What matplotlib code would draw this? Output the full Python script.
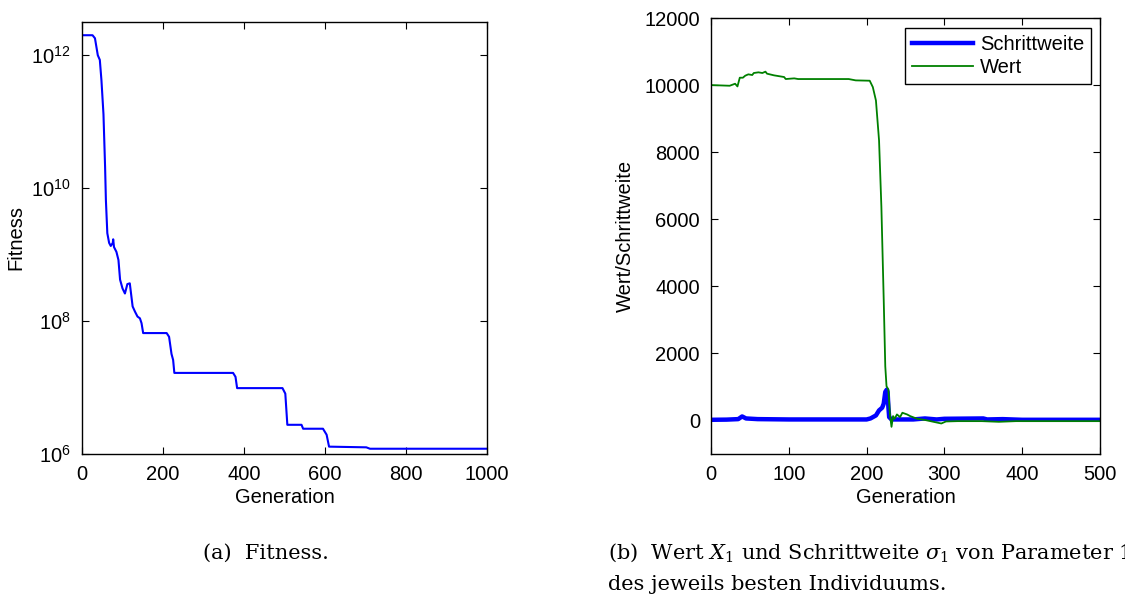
import matplotlib
matplotlib.use("Agg")
import matplotlib.pyplot as plt
import numpy as np

plt.rcParams["font.family"] = ["Liberation Sans", "DejaVu Sans"]
plt.rcParams["mathtext.default"] = "regular"
plt.rcParams["mathtext.fontset"] = "dejavuserif"
plt.rcParams["font.size"] = 14.5

# (a) fitness of the best individual per generation
fit_gen = [0, 26, 32, 39, 44, 48, 53, 57, 59, 62.5, 67, 71, 76, 77, 79, 85, 90, 94, 100,
           106, 112, 118, 125, 131, 137, 143, 147, 151, 209, 215, 221, 225, 228, 373, 379,
           383, 495, 502, 507, 542, 546, 595, 604, 610, 702, 711, 1000]
fit_val = [2.0e12, 2.0e12, 1.8e12, 1.0e12, 8.5e11, 4.2e11, 1.3e11, 2.1e10, 6.6e9, 2.1e9,
           1.5e9, 1.35e9, 1.5e9, 1.7e9, 1.3e9, 1.1e9, 8.3e8, 4.2e8, 3.1e8, 2.6e8, 3.6e8,
           3.7e8, 1.66e8, 1.38e8, 1.17e8, 1.1e8, 9.3e7, 6.6e7, 6.6e7, 5.8e7, 3.2e7, 2.6e7,
           1.66e7, 1.66e7, 1.45e7, 9.8e6, 9.8e6, 8.1e6, 2.75e6, 2.75e6, 2.4e6, 2.4e6, 1.95e6,
           1.29e6, 1.26e6, 1.2e6, 1.2e6]

# (b) value X1 and step size sigma1 of parameter 1
wert_gen = [0, 24, 31, 34, 37, 41, 44, 48, 53, 55, 61, 66, 70, 72, 81, 94, 96, 107, 112,
            151, 177, 186, 204, 208, 212, 216, 219, 222, 224, 225.6, 228, 230, 232, 234,
            236, 239, 243, 246, 252, 256, 265, 276, 282, 296, 302, 317, 348, 370, 392, 414, 500]
wert_val = [10000, 9980, 10040, 9960, 10220, 10220, 10280, 10320, 10300, 10360, 10380,
            10360, 10400, 10340, 10290, 10240, 10180, 10200, 10180, 10180, 10180, 10140,
            10130, 9940, 9540, 8350, 6370, 3600, 1615, 1020, 920, 180, -190, 130, 50, 180,
            100, 230, 180, 130, 50, 10, -20, -90, -30, -20, -20, -40, -20, -20, -20]

schritt_gen = [0, 20, 35, 40, 45, 60, 100, 150, 200, 205, 212, 216, 220, 222, 224, 226,
               227, 228, 229, 232, 260, 275, 290, 300, 350, 355, 375, 400, 500]
schritt_val = [20, 25, 40, 120, 60, 40, 30, 30, 30, 60, 150, 300, 380, 500, 850, 920,
               850, 400, 100, 30, 30, 60, 30, 50, 60, 30, 40, 20, 20]

fig = plt.figure(figsize=(11.25, 6.01), dpi=100)

ax1 = fig.add_axes([82 / 1125, 1 - 454 / 601, 405 / 1125, 432 / 601])
ax1.semilogy(fit_gen, fit_val, color="#0000ff", linewidth=1.5)
ax1.set_xlim(0, 1000)
ax1.set_ylim(1e6, 10 ** 12.5)
ax1.set_yticks([1e6, 1e8, 1e10, 1e12])
ax1.set_yticklabels([r"$10^{6}$", r"$10^{8}$", r"$10^{10}$", r"$10^{12}$"])
ax1.yaxis.set_minor_locator(matplotlib.ticker.NullLocator())
ax1.set_xticks([0, 200, 400, 600, 800, 1000])
ax1.set_xlabel("Generation", labelpad=3)
ax1.set_ylabel("Fitness")
ax1.yaxis.set_label_coords(-0.14, 0.5)

ax2 = fig.add_axes([711 / 1125, 1 - 454 / 601, 389 / 1125, 436 / 601])
ax2.plot(schritt_gen, schritt_val, color="#0000ff", linewidth=3.2, label="Schrittweite")
ax2.plot(wert_gen, wert_val, color="#008000", linewidth=1.3, label="Wert")
ax2.set_xlim(0, 500)
ax2.set_ylim(-1000, 12000)
ax2.set_yticks(np.arange(0, 12001, 2000))
ax2.set_xticks([0, 100, 200, 300, 400, 500])
ax2.set_xlabel("Generation", labelpad=3)
ax2.set_ylabel("Wert/Schrittweite")
ax2.yaxis.set_label_coords(-0.195, 0.5)
leg = ax2.legend(loc="upper right", fancybox=False, framealpha=1, edgecolor="black",
                 handlelength=3.0, handletextpad=0.35, borderpad=0.35, labelspacing=0.2,
                 borderaxespad=0, bbox_to_anchor=(0.977, 0.977))
leg.get_frame().set_linewidth(1.0)

for ax in (ax1, ax2):
    ax.tick_params(direction="in", top=True, right=True, length=5, width=0.8, pad=8)
    for s in ax.spines.values():
        s.set_linewidth(1.0)

cap = dict(family=["DejaVu Serif"], fontsize=15, va="center")
fig.text(203 / 1125, 1 - 553 / 601, "(a)  Fitness.", **cap)
fig.text(608 / 1125, 1 - 553 / 601,
         r"(b)  Wert $\mathit{X}_1$ und Schrittweite $\mathit{\sigma}_1$ von Parameter 1", **cap)
fig.text(608 / 1125, 1 - 585 / 601, "des jeweils besten Individuums.", **cap)

fig.savefig("out.png", dpi=100)
